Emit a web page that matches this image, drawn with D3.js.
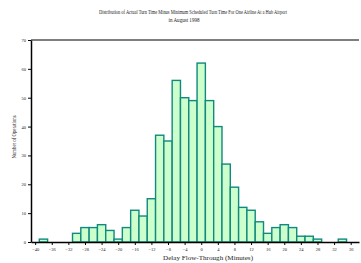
<!DOCTYPE html>
<html>
<head>
<meta charset="utf-8">
<script src="https://cdn.jsdelivr.net/npm/d3@7"></script>
<style>
body { margin: 0; background: #fff; }
text { font-family: "Liberation Serif", "DejaVu Serif", serif; fill: #222; }
</style>
</head>
<body>
<div id="chart"></div>
<script>
"use strict";

// bin centres (minutes) and counts
var bins = [-38, -36, -34, -32, -30, -28, -26, -24, -22, -20, -18, -16, -14, -12, -10, -8, -6, -4, -2,
    0, 2, 4, 6, 8, 10, 12, 14, 16, 18, 20, 22, 24, 26, 28, 30, 32, 34];
var counts = [1, 0, 0, 0, 3, 5, 5, 6, 4, 1, 5, 11, 9, 15, 37, 35, 56, 50, 49,
    62, 49, 40, 27, 19, 12, 11, 7, 3, 5, 6, 5, 2, 2, 1, 0, 0, 1];
var xTicks = [-40, -36, -32, -28, -24, -20, -16, -12, -8, -4, 0, 4, 8, 12, 16, 20, 24, 28, 32, 36];
var yTicks = [0, 10, 20, 30, 40, 50, 60, 70];
var binWidth = 2;

var data = bins.map((b, i) => ({bin: b, count: counts[i]}));

var width = 361, height = 263;
var margin = {left: 31, right: 2, top: 40, bottom: 21};
var w = width - margin.left - margin.right,
    h = height - margin.top - margin.bottom;

var x = d3.scaleLinear().domain([-41, 38]).range([0, w]),
    y = d3.scaleLinear().domain([0, 70]).range([h, 0]);

var svg = d3.select("#chart")
    .append("svg")
    .attr("width", width)
    .attr("height", height);

svg.append("text")
    .attr("x", 193).attr("y", 14)
    .attr("text-anchor", "middle")
    .attr("font-size", 5.8)
    .attr("textLength", 188)
    .attr("lengthAdjust", "spacingAndGlyphs")
    .text("Distribution of Actual Turn Time Minus Minimum Scheduled Turn Time For One Airline At a Hub Airport");

svg.append("text")
    .attr("x", 184).attr("y", 22)
    .attr("text-anchor", "middle")
    .attr("font-size", 6.2)
    .attr("textLength", 31)
    .attr("lengthAdjust", "spacingAndGlyphs")
    .text("in August 1998");

var g = svg.append("g")
    .attr("transform", "translate(" + margin.left + "," + margin.top + ")");

// top frame line
g.append("line")
    .attr("x1", 0).attr("x2", w)
    .attr("y1", y(70)).attr("y2", y(70))
    .attr("stroke", "#555")
    .attr("stroke-width", 1.5);

g.selectAll(".bar")
    .data(data.filter(d => d.count > 0))
    .enter()
    .append("rect")
    .attr("class", "bar")
    .attr("x", d => x(d.bin - binWidth / 2))
    .attr("y", d => y(d.count))
    .attr("width", d => x(d.bin + binWidth / 2) - x(d.bin - binWidth / 2))
    .attr("height", d => h - y(d.count))
    .attr("fill", "#ccffcc")
    .attr("stroke", "#108a7e")
    .attr("stroke-width", 1.4);

var yAxis = g.append("g")
    .call(d3.axisLeft(y).tickValues(yTicks).tickSize(3).tickPadding(2).tickSizeOuter(0));
yAxis.select(".domain").attr("stroke", "#000").attr("stroke-width", 1.5);
yAxis.selectAll(".tick text").attr("font-size", 4.5).attr("fill", "#333");

var xAxis = g.append("g")
    .attr("transform", "translate(0," + h + ")")
    .call(d3.axisBottom(x).tickValues(xTicks).tickSize(3).tickPadding(3).tickSizeOuter(0));
xAxis.select(".domain").attr("stroke", "#000").attr("stroke-width", 1.6);
xAxis.selectAll(".tick text").attr("font-size", 4.5).attr("fill", "#333");

svg.append("text")
    .attr("transform", "translate(16,137) rotate(-90)")
    .attr("text-anchor", "middle")
    .attr("font-size", 5.5)
    .attr("textLength", 43)
    .attr("lengthAdjust", "spacingAndGlyphs")
    .text("Number of Operations");

svg.append("text")
    .attr("x", 208).attr("y", 260)
    .attr("text-anchor", "middle")
    .attr("font-size", 5.5)
    .attr("textLength", 90)
    .attr("lengthAdjust", "spacingAndGlyphs")
    .text("Delay Flow-Through (Minutes)");
</script>
</body>
</html>
